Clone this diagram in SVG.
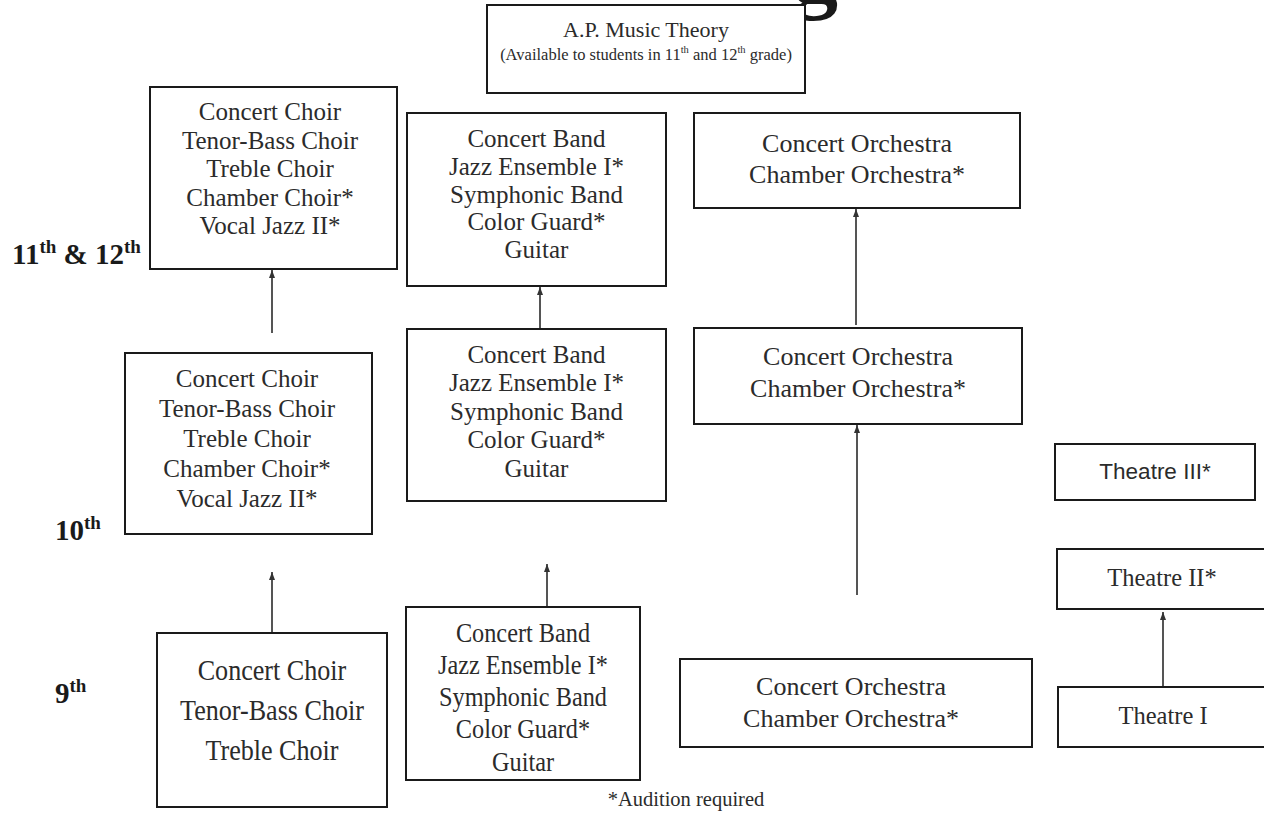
<svg xmlns="http://www.w3.org/2000/svg" width="1264" height="814" viewBox="0 0 1264 814">
<style>
.bg{fill:#fff}
.box{fill:#fff;stroke:#1a1a1a;stroke-width:2}
.t{font-family:"Liberation Serif","Times New Roman",serif;fill:#2b2b2b;text-anchor:middle}
.s{font-family:"Liberation Sans",Arial,sans-serif;fill:#2b2b2b;text-anchor:middle}
.lbl{font-family:"Liberation Serif","Times New Roman",serif;font-weight:bold;fill:#1a1a1a}
.conn{stroke:#555;stroke-width:2;fill:none;marker-end:url(#ah)}
</style>
<defs>
<marker id="ah" markerUnits="userSpaceOnUse" markerWidth="8" markerHeight="6" refX="8" refY="3" orient="auto">
<path d="M0,0 L8,3 L0,6 z" fill="#333"/>
</marker>
</defs>
<rect class="bg" x="0" y="0" width="1264" height="814"/>

<text class="lbl" x="792" y="2" font-size="92">g</text>

<g id="ap">
<rect class="box" x="487" y="5" width="318" height="88"/>
<text class="t" x="646" y="37" font-size="22">A.P. Music Theory</text>
<text class="t" x="646" y="60" font-size="16.5">(Available to students in 11<tspan font-size="10.5" dy="-7">th</tspan><tspan dy="7"> and 12</tspan><tspan font-size="10.5" dy="-7">th</tspan><tspan dy="7"> grade)</tspan></text>
</g>

<g id="labels">
<text class="lbl" x="12" y="264" font-size="29">11<tspan font-size="19" dy="-11">th</tspan><tspan dy="11"> &amp; 12</tspan><tspan font-size="19" dy="-11">th</tspan></text>
<text class="lbl" x="55" y="540" font-size="29">10<tspan font-size="19" dy="-11">th</tspan></text>
<text class="lbl" x="55" y="703" font-size="29">9<tspan font-size="19" dy="-11">th</tspan></text>
<text class="t" x="686" y="806" font-size="20.5">*Audition required</text>
</g>

<g id="connectors">
<line class="conn" x1="272" y1="333" x2="272" y2="270"/>
<line class="conn" x1="272" y1="633" x2="272" y2="572"/>
<line class="conn" x1="540" y1="329" x2="540" y2="287"/>
<line class="conn" x1="547" y1="606" x2="547" y2="564"/>
<line class="conn" x1="856" y1="325" x2="856" y2="209"/>
<line class="conn" x1="857" y1="595" x2="857" y2="425"/>
<line class="conn" x1="1163" y1="687" x2="1163" y2="612"/>
</g>

<g id="choir12">
<rect class="box" x="150" y="87" width="247" height="182"/>
<text class="t" font-size="25"><tspan x="270" y="120">Concert Choir</tspan><tspan x="270" y="148.5">Tenor-Bass Choir</tspan><tspan x="270" y="177">Treble Choir</tspan><tspan x="270" y="205.5">Chamber Choir*</tspan><tspan x="270" y="234">Vocal Jazz II*</tspan></text>
</g>

<g id="band12">
<rect class="box" x="407" y="113" width="259" height="173"/>
<text class="t" font-size="25"><tspan x="536.5" y="147">Concert Band</tspan><tspan x="536.5" y="175">Jazz Ensemble I*</tspan><tspan x="536.5" y="202.5">Symphonic Band</tspan><tspan x="536.5" y="230">Color Guard*</tspan><tspan x="536.5" y="258">Guitar</tspan></text>
</g>

<g id="orch12">
<rect class="box" x="694" y="113" width="326" height="95"/>
<text class="t" font-size="26"><tspan x="857" y="152">Concert Orchestra</tspan><tspan x="857" y="183">Chamber Orchestra*</tspan></text>
</g>

<g id="choir10">
<rect class="box" x="125" y="353" width="247" height="181"/>
<text class="t" font-size="25"><tspan x="247" y="387">Concert Choir</tspan><tspan x="247" y="417">Tenor-Bass Choir</tspan><tspan x="247" y="447">Treble Choir</tspan><tspan x="247" y="477">Chamber Choir*</tspan><tspan x="247" y="507">Vocal Jazz II*</tspan></text>
</g>

<g id="band10">
<rect class="box" x="407" y="329" width="259" height="172"/>
<text class="t" font-size="25"><tspan x="536.5" y="363">Concert Band</tspan><tspan x="536.5" y="391">Jazz Ensemble I*</tspan><tspan x="536.5" y="420">Symphonic Band</tspan><tspan x="536.5" y="448">Color Guard*</tspan><tspan x="536.5" y="477">Guitar</tspan></text>
</g>

<g id="orch10">
<rect class="box" x="694" y="328" width="328" height="96"/>
<text class="t" font-size="26"><tspan x="858" y="365">Concert Orchestra</tspan><tspan x="858" y="397">Chamber Orchestra*</tspan></text>
</g>

<g id="theatre3">
<rect class="box" x="1055" y="444" width="200" height="56" stroke="#444"/>
<text class="s" x="1155" y="479" font-size="22.5">Theatre III*</text>
</g>

<g id="theatre2">
<rect class="box" x="1057" y="549" width="212" height="60"/>
<text class="t" x="1162" y="586" font-size="24.5">Theatre II*</text>
</g>

<g id="choir9">
<rect class="box" x="157" y="633" width="230" height="174"/>
<g transform="translate(272,0) scale(0.87,1) translate(-272,0)">
<text class="t" font-size="30"><tspan x="272" y="680">Concert Choir</tspan><tspan x="272" y="720">Tenor-Bass Choir</tspan><tspan x="272" y="760">Treble Choir</tspan></text>
</g>
</g>

<g id="band9">
<rect class="box" x="406" y="607" width="234" height="173"/>
<g transform="translate(523,0) scale(0.9,1) translate(-523,0)">
<text class="t" font-size="27"><tspan x="523" y="642">Concert Band</tspan><tspan x="523" y="674">Jazz Ensemble I*</tspan><tspan x="523" y="706">Symphonic Band</tspan><tspan x="523" y="738">Color Guard*</tspan><tspan x="523" y="771">Guitar</tspan></text>
</g>
</g>

<g id="orch9">
<rect class="box" x="680" y="659" width="352" height="88"/>
<text class="t" font-size="26"><tspan x="851" y="695">Concert Orchestra</tspan><tspan x="851" y="727">Chamber Orchestra*</tspan></text>
</g>

<g id="theatre1">
<rect class="box" x="1058" y="687" width="212" height="60"/>
<text class="t" x="1163" y="724" font-size="24.5">Theatre I</text>
</g>
</svg>
